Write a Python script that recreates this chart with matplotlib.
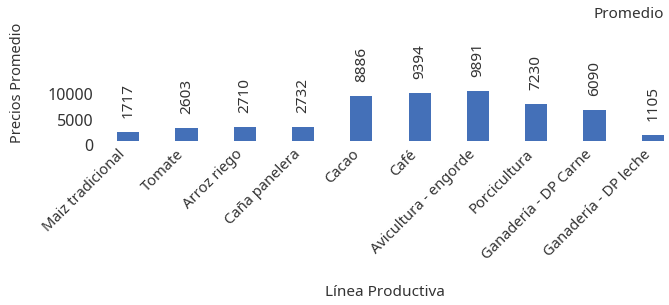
import matplotlib
matplotlib.use('Agg')
import matplotlib.pyplot as plt
import matplotlib.transforms as mtransforms

# Data
categorias = ['Maiz tradicional', 'Tomate', 'Arroz riego', 'Caña panelera', 'Cacao',
              'Café', 'Avicultura - engorde', 'Porcicultura', 'Ganadería - DP Carne',
              'Ganadería - DP leche']
precios = [1717, 2603, 2710, 2732, 8886, 9394, 9891, 7230, 6090, 1105]
yticks = [0, 5000, 10000]

plt.rcParams['font.family'] = ['Noto Sans', 'DejaVu Sans']
txt = '#333333'

fig = plt.figure(figsize=(6.69, 3.05), dpi=100)
W, H = 669, 305
# axes placed in pixel coordinates
left, right, bottom, top = 99, 669, 305 - 141, 305 - 39
ax = fig.add_axes([left / W, bottom / H, (right - left) / W, (top - bottom) / H])

x = list(range(len(categorias)))
ax.bar(x, precios, width=0.38, color='#4470b8')
ax.set_xlim(-0.5, -0.5 + (right - left) / 58.3)
ax.set_ylim(0, 20000)

for xi, v in zip(x, precios):
    ax.annotate(str(v), (xi, v), xytext=(0, 10), textcoords='offset points',
                rotation=90, ha='center', va='bottom', fontsize=11, color=txt)

ax.set_yticks(yticks)
ax.set_yticklabels([str(t) for t in yticks], fontsize=11.5, color=txt)
ax.set_xticks(x)
ax.set_xticklabels(categorias, rotation=45, ha='right', rotation_mode='anchor',
                   fontsize=10.6, color=txt)
ax.tick_params(length=0, axis='both', pad=4)
ax.tick_params(axis='x', pad=5)
for s in ax.spines.values():
    s.set_visible(False)

# small nudges so the labels sit like in the reference
dx = mtransforms.ScaledTranslation(-10 / 100, 1 / 100, fig.dpi_scale_trans)
for lbl in ax.get_xticklabels():
    lbl.set_transform(lbl.get_transform() + dx)
dy = mtransforms.ScaledTranslation(0, -4 / 100, fig.dpi_scale_trans)
for lbl in ax.get_yticklabels():
    lbl.set_transform(lbl.get_transform() + dy)

fig.text(18 / W, 1 - 83 / H, 'Precios Promedio', rotation=90, ha='center', va='center',
         fontsize=10.5, color=txt)
fig.text(385 / W, 1 - 293 / H, 'Línea Productiva', ha='center', va='center',
         fontsize=11, color=txt)
fig.text(664 / W, 1 - 15 / H, 'Promedio', ha='right', va='center',
         fontsize=11, color=txt)

fig.savefig('out.png', dpi=100)
